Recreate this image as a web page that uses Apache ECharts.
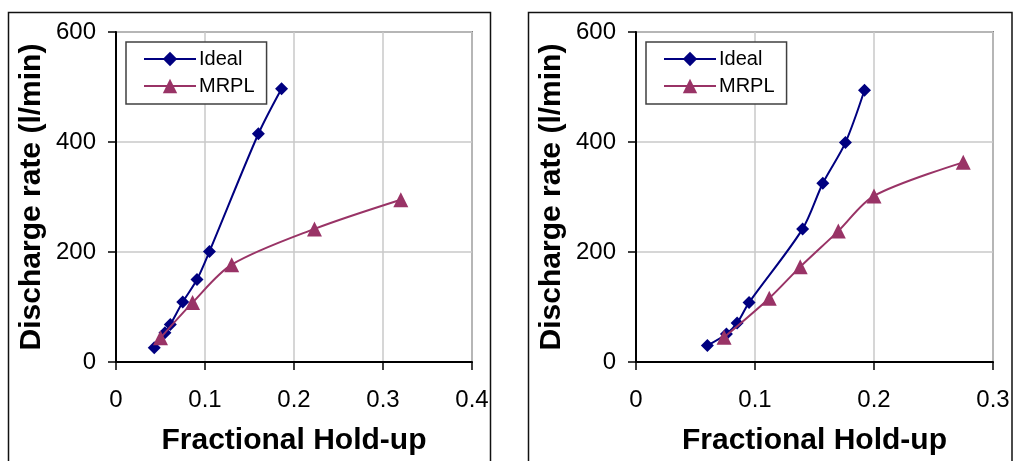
<!DOCTYPE html>
<html>
<head>
<meta charset="utf-8">
<script src="https://cdn.jsdelivr.net/npm/echarts@6/dist/echarts.min.js"></script>
<style>
html,body{margin:0;padding:0;background:#fff;}
#c{width:1013px;height:461px;}
</style>
</head>
<body>
<div id="c"></div>
<script>
// Left chart data
const leftIdealX = [0.043, 0.055, 0.061, 0.075, 0.091, 0.105, 0.160, 0.186];
const leftIdealY = [26, 53, 68, 109, 150, 201, 415, 497];
const leftMrplX = [0.050, 0.086, 0.130, 0.223, 0.320];
const leftMrplY = [44, 108, 177, 242, 295];
// Right chart data
const rightIdealX = [0.060, 0.076, 0.085, 0.095, 0.140, 0.157, 0.176, 0.192];
const rightIdealY = [30, 51, 71, 108, 242, 325, 399, 494];
const rightMrplX = [0.074, 0.112, 0.138, 0.170, 0.200, 0.275];
const rightMrplY = [45, 116, 173, 238, 302, 363];

const seriesNames = ['Ideal', 'MRPL'];
const xTitle = 'Fractional Hold-up';
const yTitle = 'Discharge rate (l/min)';
const leftXMax = 0.4, rightXMax = 0.3, yMax = 600;

const pair = (xs, ys) => xs.map((x, i) => [x, ys[i]]);
const FONT = '"Liberation Sans", Arial, sans-serif';
const IDEAL = '#000080', MRPL = '#993366';

function xAxis(gi, max) {
  return {
    type: 'value', gridIndex: gi, min: 0, max: max, interval: 0.1,
    name: xTitle, nameLocation: 'middle', nameGap: 64,
    nameTextStyle: {fontFamily: FONT, fontWeight: 'bold', fontSize: 30, color: '#000'},
    axisLine: {show: true, onZero: false, lineStyle: {color: '#000', width: 2}},
    axisTick: {show: true, length: 8, lineStyle: {color: '#000', width: 1.5}},
    axisLabel: {margin: 26, fontFamily: FONT, fontSize: 24, color: '#000'},
    splitLine: {show: true, lineStyle: {color: '#c8c8c8', width: 1.5}}
  };
}
function yAxis(gi) {
  return {
    type: 'value', gridIndex: gi, min: 0, max: yMax, interval: 200,
    name: yTitle, nameLocation: 'middle', nameGap: 69,
    nameTextStyle: {fontFamily: FONT, fontWeight: 'bold', fontSize: 30, color: '#000'},
    axisLine: {show: true, onZero: false, lineStyle: {color: '#000', width: 2}},
    axisTick: {show: true, length: 8, lineStyle: {color: '#000', width: 1.5}},
    axisLabel: {margin: 20, fontFamily: FONT, fontSize: 24, color: '#000'},
    splitLine: {show: true, lineStyle: {color: '#c8c8c8', width: 1.5}}
  };
}
function idealSeries(gi, data) {
  return {
    name: seriesNames[0], type: 'line', xAxisIndex: gi, yAxisIndex: gi,
    data: data, smooth: 0.3, symbol: 'diamond', symbolSize: 13,
    lineStyle: {color: IDEAL, width: 2}, itemStyle: {color: IDEAL},
    z: 3
  };
}
function mrplSeries(gi, data) {
  return {
    name: seriesNames[1], type: 'line', xAxisIndex: gi, yAxisIndex: gi,
    data: data, smooth: 0.3, symbol: 'triangle', symbolSize: 15,
    lineStyle: {color: MRPL, width: 2}, itemStyle: {color: MRPL},
    z: 4
  };
}
function legend(left) {
  return {
    data: seriesNames, orient: 'vertical', left: left, top: 42,
    itemWidth: 52, itemHeight: 18, itemGap: 7,
    padding: [7, 12, 8, 17],
    borderColor: '#404040', borderWidth: 1.5, backgroundColor: '#fff',
    textStyle: {fontFamily: FONT, fontSize: 20, color: '#000', lineHeight: 20, padding: [0,0,0,-2]},
    selectedMode: false
  };
}

const chart = echarts.init(document.getElementById('c'), null, {renderer: 'canvas'});
chart.setOption({
  animation: false,
  backgroundColor: '#fff',
  grid: [
    {left: 116, right: 541, top: 32, bottom: 99, show: true, borderColor: '#808080', borderWidth: 2, backgroundColor: 'transparent'},
    {left: 636, right: 20, top: 32, bottom: 97, show: true, borderColor: '#808080', borderWidth: 2, backgroundColor: 'transparent'}
  ],
  xAxis: [xAxis(0, leftXMax), xAxis(1, rightXMax)],
  yAxis: [yAxis(0), yAxis(1)],
  legend: [legend(126), legend(646)],
  series: [
    idealSeries(0, pair(leftIdealX, leftIdealY)),
    mrplSeries(0, pair(leftMrplX, leftMrplY)),
    idealSeries(1, pair(rightIdealX, rightIdealY)),
    mrplSeries(1, pair(rightMrplX, rightMrplY))
  ],
  graphic: [
    {type: 'rect', shape: {x: 8.5, y: 12.5, width: 482, height: 470}, style: {fill: 'none', stroke: '#111', lineWidth: 1.5}, silent: true, z: 0},
    {type: 'rect', shape: {x: 528.5, y: 12.5, width: 483.5, height: 470}, style: {fill: 'none', stroke: '#111', lineWidth: 1.5}, silent: true, z: 0}
  ]
});
</script>
</body>
</html>
